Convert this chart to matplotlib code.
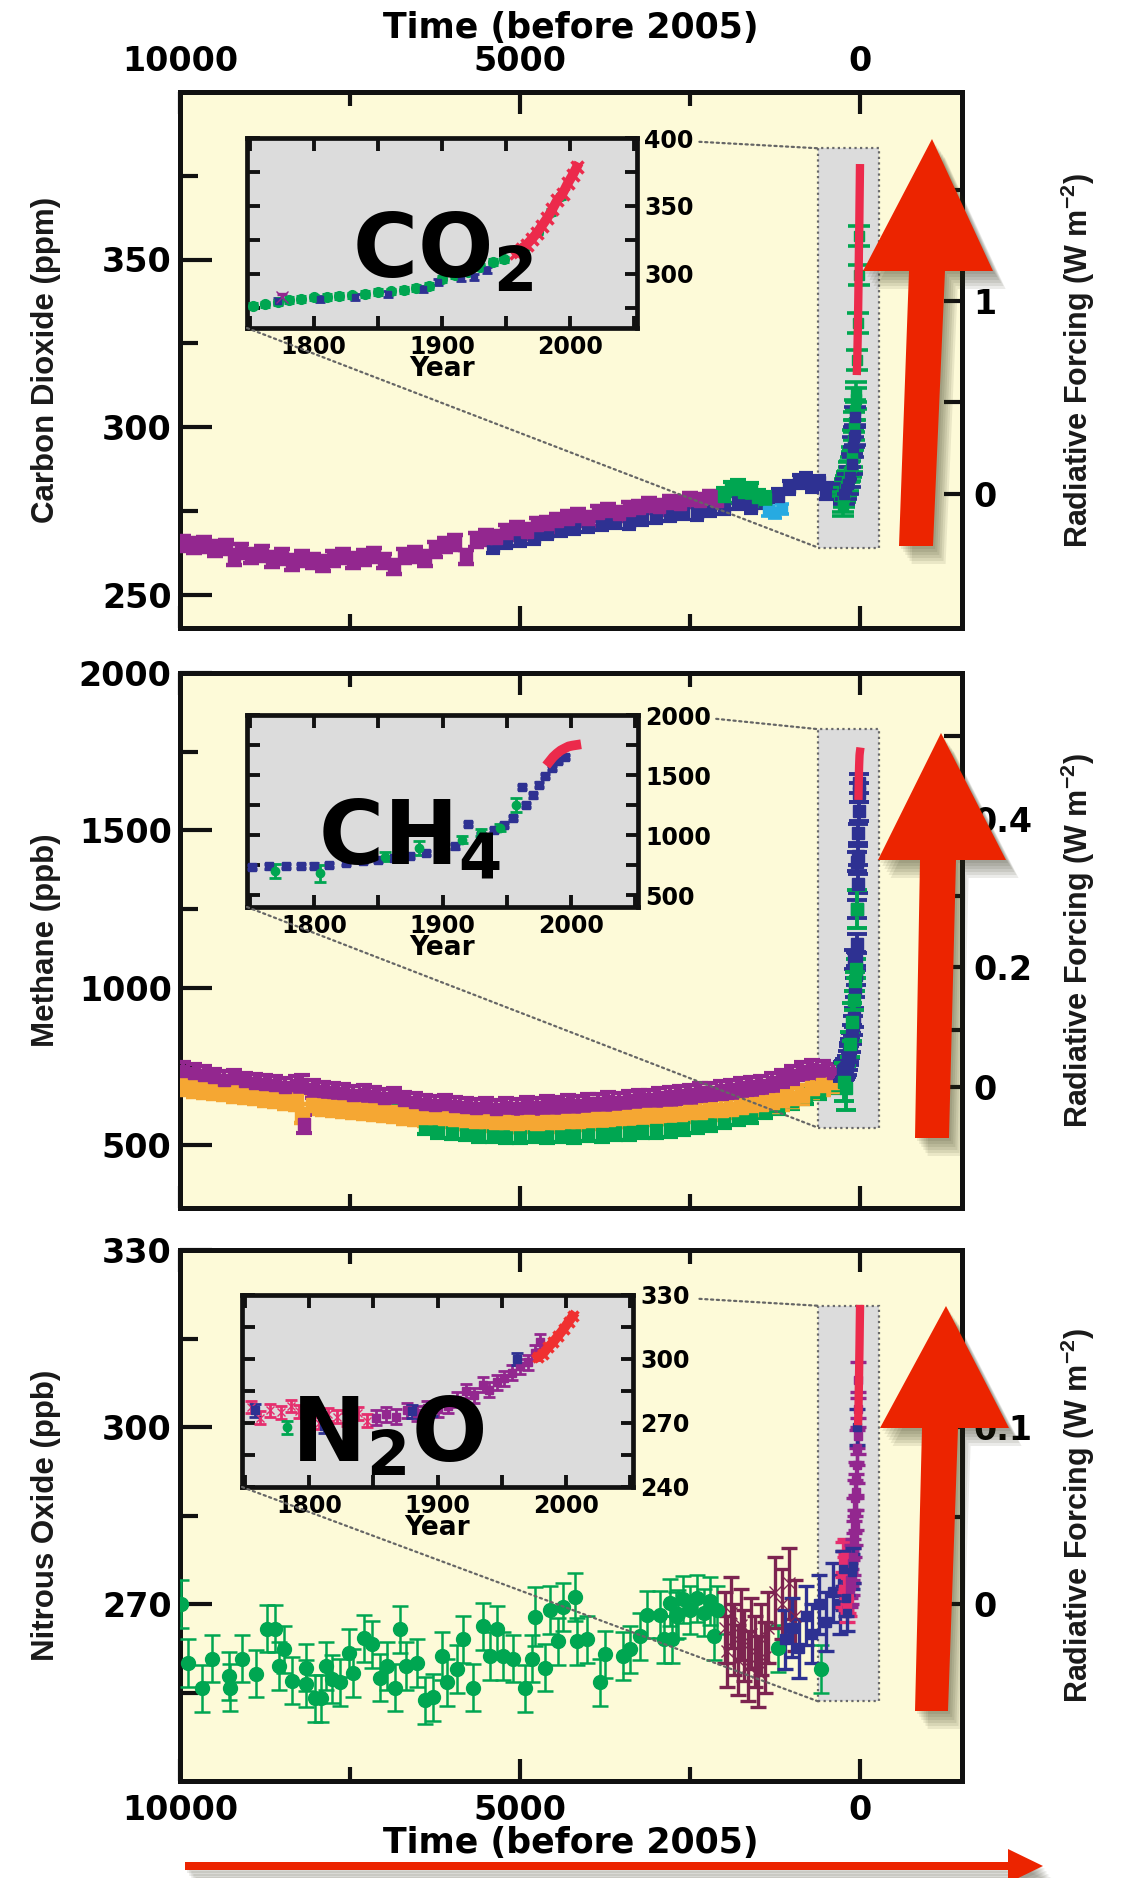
import numpy as np
import matplotlib
matplotlib.use('Agg')
import matplotlib.pyplot as plt
from matplotlib.patches import Polygon, Rectangle, ConnectionPatch
from matplotlib.ticker import FixedLocator, MultipleLocator

# ---------------------------------------------------------------- data
# main panels: (time before 2005, value[, error])
co2_purple = [(9950,265.2),(9800,264.6),(9650,264.9),(9480,263.8),(9330,264.2),(9200,261.0),(9100,263.0),
              (8950,261.5),(8800,262.2),(8650,260.5),(8500,261.3),(8350,259.6),(8200,260.8),(8050,260.0),
              (7900,259.2),(7750,260.7),(7600,261.5),(7450,260.2),(7300,261.0),(7150,261.8),(7000,260.0),
              (6850,258.2),(6700,261.5),(6550,262.0),(6400,260.8),(6250,263.5),(6100,264.8),(5950,265.6),
              (5800,261.2),(5650,266.3),(5500,267.0),(5350,266.8),(5200,268.5),(5050,269.5),(4900,268.8),
              (4750,270.6),(4600,271.0),(4450,271.8),(4300,272.6),(4150,273.3),(4000,272.5),(3850,274.2),
              (3700,274.8),(3550,274.0),(3400,275.3),(3250,275.8),(3100,276.5),(2950,276.0),(2800,277.3),
              (2650,277.0),(2500,278.2),(2350,277.8),(2200,278.8),(2100,278.0)]
co2_navy = [(5400,264.5),(5200,265.8),(5000,266.5),(4800,267.2),(4600,268.5),(4400,269.5),(4200,270.2),
            (4000,270.8),(3800,271.3),(3600,272.0),(3400,271.5),(3200,272.8),(3000,273.2),(2800,273.8),
            (2600,274.5),(2400,274.2),(2200,275.5),(2000,276.0),(1800,277.5),(1600,276.3),(1400,277.8),
            (1200,279.5),(1050,282.0),(900,283.8),(800,284.2),(700,282.6),(600,283.5),(500,280.5),
            (400,281.2),(300,279.8)]
co2_green = [(2000,279.5),(1900,281.5),(1800,282.0),(1700,280.5),(1600,281.2),(1500,279.0),(1400,278.5)]
co2_cyan = [(1350,275.0),(1250,274.3),(1150,275.5)]

ch4_purple = [(9950,735),(9800,728),(9650,722),(9500,715),(9350,708),(9200,712),(9050,702),(8900,698),
              (8750,695),(8600,690),(8450,686),(8300,690),(8200,695),(8180,566),(8050,678),(7900,672),
              (7750,668),(7600,665),(7450,660),(7300,662),(7150,655),(7000,650),(6850,652),(6700,642),
              (6550,638),(6400,632),(6250,628),(6100,630),(5950,625),(5800,620),(5650,618),(5500,622),
              (5350,616),(5200,620),(5050,618),(4900,624),(4750,622),(4600,628),(4450,626),(4300,632),
              (4150,628),(4000,635),(3850,634),(3700,640),(3550,638),(3400,644),(3250,648),(3100,646),
              (2950,652),(2800,655),(2650,660),(2500,662),(2350,668),(2200,670),(2050,675),(1900,678),
              (1750,684),(1600,688),(1450,692),(1300,700),(1150,712),(1000,722),(850,735),(700,742),
              (550,738),(400,730)]
ch4_orange = [(9950,690),(9800,684),(9650,680),(9500,676),(9350,672),(9200,668),(9050,664),(8900,660),
              (8750,655),(8600,650),(8450,646),(8300,640),(8200,600),(8050,628),(7900,625),(7750,622),
              (7600,620),(7450,616),(7300,612),(7150,610),(7000,606),(6850,604),(6700,598),(6550,594),
              (6400,590),(6250,588),(6100,586),(5950,582),(5800,580),(5650,578),(5500,576),(5350,574),
              (5200,572),(5050,570),(4900,572),(4750,570),(4600,574),(4450,572),(4300,576),(4150,578),
              (4000,580),(3850,584),(3700,582),(3550,586),(3400,588),(3250,592),(3100,594),(2950,596),
              (2800,598),(2650,600),(2500,604),(2350,606),(2200,610),(2050,612),(1900,616),(1750,620),
              (1600,626),(1450,630),(1300,636),(1150,642),(1000,650),(850,660),(700,680),(550,690),(400,700)]
ch4_green = [(6800,620),(6650,615),(6400,560),(6200,548),(6000,545),(5800,540),(5600,536),(5400,534),
             (5200,532),(5000,530),(4800,534),(4600,530),(4400,535),(4200,532),(4000,538),(3800,536),
             (3600,540),(3400,542),(3200,546),(3000,548),(2800,552),(2600,558),(2400,562),(2200,570),
             (2000,580),(1800,590),(1600,596),(1400,610),(1200,625),(1000,640),(800,655),(600,670),
             (400,690),(250,700)]

n2o_green = [(9990,270.0,4),(9880,260.0,4),(9680,255.7,4),(9530,260.7,4),(9280,257.8,4),(9270,255.8,4),
             (9085,260.7,4),(8880,258.2,4),(8720,265.8,4),(8610,265.8,4),(8540,259.5,4),(8470,262.3,4),
             (8350,257.0,4),(8140,259.2,4),(8140,256.5,4),(8020,254.0,4),(7920,254.0,4),(7850,259.5,4),
             (7760,257.3,4),(7650,256.7,4),(7510,261.7,4),(7460,258.3,4),(7290,264.2,4),(7180,263.2,4),
             (7060,257.5,4),(6960,259.5,4),(6840,255.8,4),(6770,265.7,4),(6670,259.5,4),(6520,260.0,4),
             (6400,253.7,4),(6280,254.2,4),(6140,261.2,4),(6080,256.7,4),(5930,259.0,4),(5840,264.0,4),
             (5690,255.8,4),(5550,266.2,4),(5440,261.2,4),(5340,265.7,4),(5250,261.2,4),(5100,260.7,4),
             (4930,255.7,4),(4820,260.7,4),(4780,267.8,5),(4630,259.2,4),(4560,269.0,4),(4440,263.7,4),
             (4370,269.5,4),(4190,271.2,4),(4160,263.7,4),(4010,264.0,4),(3820,256.7,4),(3750,261.5,4),
             (3480,261.2,4),(3380,262.3,4),(3230,264.5,4),(3130,268.2,4),(2940,268.2,4),(2880,264.0,4),
             (2800,270.2,4),(2760,264.0,4),(2700,268.0,4),(2680,268.3,4),(2600,270.8,4),(2500,269.0,4),
             (2400,271.0,4),(2300,268.5,4),(2200,270.5,4),(2150,264.5,4),(2100,269.0,4),(1200,262.5,4),
             (575,259.0,4)]
n2o_maroon = [(1990,266.0,6),(1950,262.0,6),(1900,268.5,6),(1850,264.0,6),(1800,260.5,6),(1750,266.5,6),
              (1700,263.0,6),(1650,259.5,6),(1600,265.0,6),(1550,262.0,6),(1500,258.5,6),(1450,264.0,6),
              (1400,261.0,6),(1350,266.0,6),(1250,272.0,6),(1150,270.0,6),(1050,273.5,6),(950,268.0,6)]
n2o_blue = [(1100,264.0,5),(1000,266.0,5),(900,262.5,5),(800,268.0,5),(700,265.0,5),(600,270.0,5),
            (500,267.0,5),(400,272.0,5),(300,270.0,5),(250,274.0,5)]

# insets: (year, value[, error])
co2_ins_green = [(1753,276.5),(1762,277.5),(1772,279.0),(1781,280.5),(1790,281.5),(1800,282.5),(1810,283.0),
                 (1820,283.5),(1830,284.0),(1840,285.0),(1850,286.5),(1860,287.0),(1870,288.0),(1880,289.5),
                 (1890,291.0),(1900,296.0),(1910,299.0),(1920,301.5),(1930,305.0),(1940,308.5),(1948,310.5),
                 (1965,320.0),(1975,331.0),(1985,345.5),(1993,357.0)]
co2_ins_blue = [(1772,280.0),(1805,281.5),(1832,283.0),(1858,285.0),(1885,289.0),(1897,294.0),(1915,297.0),
                (1925,297.5),(1935,303.0)]
co2_ins_purple = [(1775,282.5)]
co2_ins_red = [(1958,315.5),(1962,318.5),(1966,321.5),(1970,325.5),(1974,330.0),(1978,335.5),(1982,341.0),
               (1986,347.5),(1990,354.5),(1994,359.0),(1998,366.5),(2002,373.0),(2005,378.5)]

ch4_ins_blue = [(1752,735),(1765,738),(1778,740),(1790,742),(1800,745),(1812,752),(1825,770),(1838,785),
                (1850,795),(1862,808),(1875,825),(1887,850),(1900,880),(1910,905),(1920,1090),(1930,1000),
                (1940,1040),(1948,1085),(1955,1140),(1962,1400),(1965,1250),(1970,1330),(1975,1420),
                (1980,1490),(1985,1560),(1990,1620),(1995,1650)]
ch4_ins_green = [(1770,700,60),(1805,680,70),(1855,820,40),(1882,890,60),(1915,960,30),(1930,1020,30),
                 (1945,1060,30),(1957,1250,60)]
ch4_ins_red = [(1983,1610),(1986,1650),(1989,1680),(1992,1705),(1995,1722),(1998,1738),(2001,1745),(2004,1750)]

n2o_ins_pink = [(1755,277.5),(1762,272.5),(1770,276.0),(1778,275.0),(1786,278.0),(1792,275.5),(1800,272.0),
                (1808,270.0),(1815,274.0),(1822,273.0),(1830,271.5),(1838,274.5),(1845,271.0)]
n2o_ins_purple = [(1852,272.5),(1860,274.0),(1868,273.0),(1876,276.0),(1884,274.5),(1892,277.0),(1900,276.5),
                  (1908,278.0),(1915,281.0),(1922,285.0),(1928,283.0),(1935,288.0),(1940,285.5),(1946,289.0),
                  (1952,291.0),(1958,293.5),(1964,296.5),(1970,298.5),(1976,303.0),(1980,308.0)]
n2o_ins_blue = [(1758,276.0),(1800,271.0),(1812,268.5),(1880,275.5),(1896,276.5),(1962,300.0)]
n2o_ins_green = [(1783,268.0)]
n2o_ins_red = [(1978,301.0),(1982,302.5),(1986,305.5),(1990,308.0),(1994,311.0),(1998,314.0),(2002,317.5),
               (2005,320.0)]

# axis ticks / labels
time_major = [10000, 5000, 0]
time_minor = [7500, 2500]
co2_yticks, co2_yminor = [250, 300, 350], [275, 325, 375]
ch4_yticks, ch4_yminor = [500, 1000, 1500, 2000], [750, 1250, 1750]
n2o_yticks, n2o_yminor = [270, 300, 330], [255, 285, 315]
co2_rf_ticks, co2_rf_labels, co2_rf_minor = [0, 1], ['0', '1'], [0.5, 1.5]
ch4_rf_ticks, ch4_rf_labels, ch4_rf_minor = [0, 0.2, 0.4], ['0', '0.2', '0.4'], [0.1, 0.3, 0.5]
n2o_rf_ticks, n2o_rf_labels, n2o_rf_minor = [0, 0.1], ['0', '0.1'], [0.05, 0.15]

# ---------------------------------------------------------------- style
W, H, DPI = 1125, 1878, 100
LABFONT = ['Liberation Sans', 'DejaVu Sans']
plt.rcParams['font.family'] = ['DejaVu Sans']
plt.rcParams['font.weight'] = 'bold'
plt.rcParams['axes.labelweight'] = 'bold'
plt.rcParams['mathtext.fontset'] = 'custom'
plt.rcParams['mathtext.rm'] = 'Liberation Sans:bold'
plt.rcParams['mathtext.it'] = 'Liberation Sans:bold'
plt.rcParams['mathtext.bf'] = 'Liberation Sans:bold'

CREAM = '#fdfad8'
GREY = '#dcdcdc'
PURPLE = '#93278f'
NAVY = '#2e3192'
GREEN = '#00a651'
CYAN = '#27aae1'
RED = '#ec2a4b'
ORANGE = '#f5a733'
MAROON = '#7d2450'
PINK = '#e62e6e'
ARROW = '#ec2400'

fig = plt.figure(figsize=(W / DPI, H / DPI), dpi=DPI)
fig.patch.set_facecolor('white')


def fx(x):
    return x / W


def fy(y):
    return 1 - y / H


def arr(lst):
    return np.array(lst, dtype=float).T


def eb(ax, data, color, marker='s', ms=5, err=None, capsize=4, lw=2.2, z=3, tshift=None):
    a = arr(data)
    x = a[0] if tshift is None else tshift - a[0]
    y = a[1]
    e = a[2] if a.shape[0] > 2 else err
    ax.errorbar(x, y, yerr=e, fmt=marker, color=color, mec=color, mfc=color, ms=ms,
                capsize=capsize, elinewidth=lw, capthick=lw, zorder=z, clip_on=True)


def main_panel(top, bottom, ylim, yt, ym, rf_f, rf_inv, rf_t, rf_l, rf_m, ylabel):
    ax = fig.add_axes([fx(180), fy(bottom), fx(962) - fx(180), (bottom - top) / H])
    ax.set_facecolor(CREAM)
    ax.set_xlim(10000, -1500)
    ax.set_ylim(*ylim)
    for s in ax.spines.values():
        s.set_linewidth(3.6)
        s.set_color('#111111')
    ax.xaxis.set_major_locator(FixedLocator(time_major))
    ax.xaxis.set_minor_locator(FixedLocator(time_minor))
    ax.set_yticks(yt)
    ax.yaxis.set_minor_locator(FixedLocator(ym))
    ax.tick_params(axis='x', which='both', direction='in', top=True, bottom=True,
                   labeltop=False, labelbottom=False, width=3, labelsize=24, color='#111111')
    ax.tick_params(axis='x', which='major', length=16)
    ax.tick_params(axis='x', which='minor', length=10)
    ax.tick_params(axis='y', which='both', direction='in', left=True, right=False,
                   width=3, labelsize=24, pad=6, color='#111111')
    ax.tick_params(axis='y', which='major', length=23)
    ax.tick_params(axis='y', which='minor', length=13)
    sec = ax.secondary_yaxis('right', functions=(rf_f, rf_inv))
    sec.set_yticks(rf_t, labels=rf_l)
    sec.yaxis.set_minor_locator(FixedLocator(rf_m))
    sec.tick_params(which='both', direction='in', length=13, width=3, labelsize=24, pad=8, color='#111111')
    sec.spines['right'].set_linewidth(3.6)
    ax.text(-0.171, 0.5, ylabel, transform=ax.transAxes, rotation=90, ha='center', va='center',
            fontsize=22.5, fontweight='bold', family=LABFONT, color='#1a1a1a')
    ax.text(1.148, 0.5, 'Radiative Forcing (W m$^{-2}$)', transform=ax.transAxes, rotation=90,
            ha='center', va='center', fontsize=22, fontweight='bold', family=LABFONT, color='#1a1a1a')
    # zoom rectangle
    ax.add_patch(Rectangle((0.816, 0.15), 0.078, 0.745, transform=ax.transAxes, facecolor=GREY,
                           edgecolor='#6a6a6a', ls=(0, (1, 1.5)), lw=1.6, zorder=1))
    return ax


def inset(rect_px, ylim, ymaj, ymin):
    l, t, r, b = rect_px
    ins = fig.add_axes([fx(l), fy(b), fx(r) - fx(l), (b - t) / H])
    ins.set_facecolor(GREY)
    ins.set_xlim(1748, 2052)
    ins.set_ylim(*ylim)
    for s in ins.spines.values():
        s.set_linewidth(3.4)
        s.set_color('#111111')
    ins.xaxis.set_major_locator(MultipleLocator(100))
    ins.xaxis.set_minor_locator(MultipleLocator(50))
    ins.yaxis.set_major_locator(MultipleLocator(ymaj))
    ins.yaxis.set_minor_locator(MultipleLocator(ymin))
    ins.tick_params(which='both', direction='in', top=True, bottom=True, left=True, right=True,
                    labelleft=False, labelright=True, length=9, width=2.8, labelsize=17, pad=5,
                    color='#111111')
    ins.set_xlabel('Year', fontsize=19, fontweight='bold', labelpad=-2)
    return ins


def connect(ins, ax, start):
    for xyA, xyB in [(start, (0.816, 0.895)), ((0.0, 0.0), (0.816, 0.15))]:
        cp = ConnectionPatch(xyA=xyA, coordsA=ins.transAxes, xyB=xyB, coordsB=ax.transAxes,
                             color='#666666', lw=1.6, ls=(0, (1, 1.6)), zorder=2)
        fig.add_artist(cp)


def big_arrow(pts, shadow=True):
    if shadow:
        for off in [18, 15, 12, 9, 6, 3]:
            sh = [(fx(x + off * 0.7), fy(y + off)) for x, y in pts]
            fig.add_artist(Polygon(sh, closed=True, transform=fig.transFigure, facecolor='#2b2b14',
                                   alpha=0.09, edgecolor='none', zorder=90))
    fig.add_artist(Polygon([(fx(x), fy(y)) for x, y in pts], closed=True, transform=fig.transFigure,
                           facecolor=ARROW, edgecolor='none', zorder=100))


# ---------------------------------------------------------------- CO2
C0 = 280.0
ax1 = main_panel(92, 628, (240, 400), co2_yticks, co2_yminor,
                 lambda c: 5.35 * np.log(np.maximum(c, 1e-6) / C0),
                 lambda f: C0 * np.exp(np.asarray(f) / 5.35),
                 co2_rf_ticks, co2_rf_labels, co2_rf_minor, 'Carbon Dioxide (ppm)')
ax1.tick_params(axis='x', labeltop=True, pad=10)
ax1.text(0.5, 1.12, 'Time (before 2005)', transform=ax1.transAxes, ha='center', va='center', fontsize=25)
eb(ax1, co2_navy, NAVY, ms=8, err=2.0, capsize=5, lw=3)
eb(ax1, co2_purple, PURPLE, ms=9, err=2.2, capsize=6, lw=3.2)
eb(ax1, co2_green, GREEN, ms=9, err=2.2, capsize=6, lw=3)
eb(ax1, co2_cyan, CYAN, ms=7, err=1.5, capsize=5, lw=2.6)
eb(ax1, co2_ins_green, GREEN, ms=7, err=3.0, capsize=8, lw=2.6, z=4, tshift=2005)
eb(ax1, co2_ins_blue, NAVY, ms=7, err=3.0, capsize=8, lw=2.6, z=4, tshift=2005)
a = arr(co2_ins_red)
ax1.plot(2005 - a[0], a[1], color=RED, lw=6, zorder=5, solid_capstyle='butt')

ins1 = inset((247, 138, 637, 328), (260, 400), 50, 25)
eb(ins1, co2_ins_green, GREEN, marker='o', ms=7, err=2.0, capsize=3.5, lw=2.2)
eb(ins1, co2_ins_blue, NAVY, marker='s', ms=5, err=2.2, capsize=3.5, lw=2.0)
eb(ins1, co2_ins_purple, PURPLE, marker='x', ms=8, err=2.2, capsize=3.5, lw=2.4)
a = arr(co2_ins_red)
ins1.plot(a[0], a[1], color=RED, lw=7, zorder=5, marker='x', ms=8, mew=2.5)
connect(ins1, ax1, (1.16, 0.98))

# ---------------------------------------------------------------- CH4
M0 = 684.0
kM = 0.0307
ax2 = main_panel(673, 1208, (300, 2000), ch4_yticks, ch4_yminor,
                 lambda m: kM * (np.sqrt(np.maximum(m, 0)) - np.sqrt(M0)),
                 lambda f: (np.sqrt(M0) + np.asarray(f) / kM) ** 2,
                 ch4_rf_ticks, ch4_rf_labels, ch4_rf_minor, 'Methane (ppb)')
eb(ax2, ch4_green, GREEN, ms=9, err=25, capsize=6, lw=3)
eb(ax2, ch4_orange, ORANGE, ms=10, err=30, capsize=6, lw=3.2)
eb(ax2, ch4_purple, PURPLE, ms=9, err=28, capsize=6, lw=3)
eb(ax2, ch4_ins_blue, NAVY, ms=9, err=30, capsize=7, lw=2.8, z=4, tshift=2005)
eb(ax2, ch4_ins_green, GREEN, ms=8, capsize=7, lw=2.8, z=4, tshift=2005)
a = arr(ch4_ins_red)
ax2.plot(2005 - a[0], a[1], color=RED, lw=6, zorder=5)

ins2 = inset((247, 715, 638, 907), (400, 2000), 500, 250)
eb(ins2, ch4_ins_blue, NAVY, marker='s', ms=6, err=18, capsize=3.5, lw=2.0)
eb(ins2, ch4_ins_green, GREEN, marker='o', ms=6, capsize=4, lw=2.0)
a = arr(ch4_ins_red)
ins2.plot(a[0], a[1], color=RED, lw=7, zorder=5)
connect(ins2, ax2, (1.2, 0.98))

# ---------------------------------------------------------------- N2O
N0 = 270.0
kN = 0.1124
ax3 = main_panel(1250, 1781, (240, 330), n2o_yticks, n2o_yminor,
                 lambda n: kN * (np.sqrt(np.maximum(n, 0)) - np.sqrt(N0)),
                 lambda f: (np.sqrt(N0) + np.asarray(f) / kN) ** 2,
                 n2o_rf_ticks, n2o_rf_labels, n2o_rf_minor, 'Nitrous Oxide (ppb)')
ax3.tick_params(axis='x', labelbottom=True, pad=9)
ax3.text(0.5, -0.117, 'Time (before 2005)', transform=ax3.transAxes, ha='center', va='center', fontsize=25)
eb(ax3, n2o_green, GREEN, marker='o', ms=10, capsize=6, lw=1.8)
eb(ax3, n2o_maroon, MAROON, marker='x', ms=8, capsize=6, lw=2.4)
eb(ax3, n2o_blue, NAVY, marker='s', ms=7, capsize=6, lw=2.4)
eb(ax3, n2o_ins_pink, PINK, ms=6, err=3, capsize=6, lw=2.4, z=4, tshift=2005)
eb(ax3, n2o_ins_purple, PURPLE, ms=6, err=3, capsize=6, lw=2.4, z=4, tshift=2005)
eb(ax3, n2o_ins_blue, NAVY, ms=6, err=3, capsize=6, lw=2.4, z=4, tshift=2005)
a = arr(n2o_ins_red)
ax3.plot(2005 - a[0], a[1], color=RED, lw=6, zorder=5)

ins3 = inset((242, 1295, 633, 1487), (240, 330), 30, 15)
eb(ins3, n2o_ins_pink, PINK, marker='x', ms=6, err=3, capsize=4.5, lw=2.0)
eb(ins3, n2o_ins_purple, PURPLE, marker='s', ms=6, err=3.5, capsize=4.5, lw=2.0)
eb(ins3, n2o_ins_blue, NAVY, marker='s', ms=6, err=3, capsize=4.5, lw=2.0)
eb(ins3, n2o_ins_green, GREEN, marker='o', ms=6, err=3, capsize=4.5, lw=2.0)
a = arr(n2o_ins_red)
ins3.plot(a[0], a[1], color='#f03030', lw=7, zorder=5, marker='x', ms=7, mew=2.5)
connect(ins3, ax3, (1.17, 0.98))

# ---------------------------------------------------------------- big labels
for x, y, s in [(352, 277, r'$\mathbf{CO_2}$'), (318, 865, r'$\mathbf{CH_4}$'), (291, 1461, r'$\mathbf{N_2O}$')]:
    fig.text(fx(x), fy(y), s, fontsize=64, ha='left', va='baseline', color='black', zorder=60,
             math_fontfamily='dejavusans')

# ---------------------------------------------------------------- arrows
big_arrow([(899, 546), (909, 271), (863, 271), (932, 139), (993, 271), (945, 271), (933, 546)])
big_arrow([(915, 1138), (920, 860), (878, 860), (941, 733), (1006, 860), (956, 860), (949, 1138)])
big_arrow([(915, 1711), (922, 1428), (880, 1428), (946, 1306), (1009, 1428), (958, 1428), (948, 1711)])
big_arrow([(185, 1862), (1008, 1862), (1008, 1849), (1043, 1866), (1008, 1883), (1008, 1870), (185, 1870)])

fig.savefig('out.png', dpi=DPI)
